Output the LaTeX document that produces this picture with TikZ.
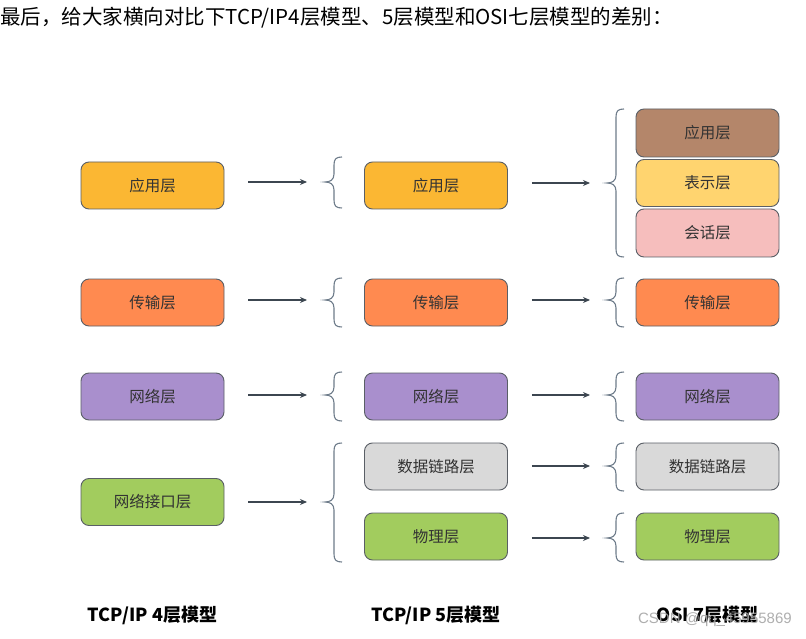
\documentclass[tikz,border=0pt]{standalone}
\usepackage{fontspec}
\setmainfont{Noto Sans CJK SC}
\newfontfamily\wmfont{Liberation Sans}
\usetikzlibrary{arrows.meta}
\definecolor{cApp}{HTML}{FBB733}
\definecolor{cTrans}{HTML}{FF8A50}
\definecolor{cNet}{HTML}{A98FCD}
\definecolor{cLink}{HTML}{A2CC5E}
\definecolor{cGrey}{HTML}{D9D9D9}
\definecolor{cPres}{HTML}{FFD46F}
\definecolor{cSess}{HTML}{F6BEBD}
\definecolor{cOsiApp}{HTML}{B4866A}
\definecolor{cBorder}{HTML}{5A5F66}
\definecolor{cArrow}{HTML}{3C4650}
\definecolor{cBrace}{HTML}{6E7C8A}
\definecolor{cText}{HTML}{333333}
\tikzset{
  layer/.style={draw=cBorder, line width=0.9pt, rounded corners=8pt, minimum width=143pt, minimum height=47pt, inner sep=0pt, font=\fontsize{15.5}{15.5}\selectfont, text=cText},
  arr/.style={draw=cArrow, line width=1.1pt, -{Stealth[length=7pt,width=6pt]}},
  bracestyle/.style={draw=cBrace, line width=1.1pt},
  caption/.style={font=\fontsize{18}{18}\selectfont\bfseries, text=black, inner sep=0pt}
}
% brace: tip x, tip y, top y, bottom y
\newcommand\drawmybrace[4]{%
  \draw[bracestyle] (#1+17,#3) .. controls (#1+11,#3) and (#1+9,#3+2) .. (#1+9,#3+8)
    -- (#1+9,#2-8) .. controls (#1+9,#2-2) and (#1+5,#2) .. (#1,#2)
    .. controls (#1+5,#2) and (#1+9,#2+2) .. (#1+9,#2+8)
    -- (#1+9,#4-8) .. controls (#1+9,#4-2) and (#1+11,#4) .. (#1+17,#4);
  \coordinate (#1-#2) at (#1,#2);
}
\begin{document}
\begin{tikzpicture}[x=1pt,y=-1pt]
\useasboundingbox[fill=white] (0,0) rectangle (806,639);
% header
\node[anchor=west, inner sep=0pt, font=\fontsize{20.5}{20.5}\selectfont, text=black] (title) at (0,18) {最后，给大家横向对比下TCP/IP4层模型、5层模型和OSI七层模型的差别：};
% column 1
\node[layer, fill=cApp]   (a1) at (152.5,185.5) {应用层};
\node[layer, fill=cTrans] (a2) at (152.5,302.5) {传输层};
\node[layer, fill=cNet]   (a3) at (152.5,396.5) {网络层};
\node[layer, fill=cLink]  (a4) at (152.5,502)   {网络接口层};
% column 2
\node[layer, fill=cApp]   (b1) at (436,185.5) {应用层};
\node[layer, fill=cTrans] (b2) at (436,302.5) {传输层};
\node[layer, fill=cNet]   (b3) at (436,396.5) {网络层};
\node[layer, fill=cGrey]  (b4) at (436,466.5) {数据链路层};
\node[layer, fill=cLink]  (b5) at (436,536.5) {物理层};
% column 3
\node[layer, fill=cOsiApp, minimum height=48pt] (c1) at (707.5,133) {应用层};
\node[layer, fill=cPres]  (c2) at (707.5,183) {表示层};
\node[layer, fill=cSess, minimum height=48pt]  (c3) at (707.5,233) {会话层};
\node[layer, fill=cTrans] (c4) at (707.5,302.5) {传输层};
\node[layer, fill=cNet]   (c5) at (707.5,396.5) {网络层};
\node[layer, fill=cGrey]  (c6) at (707.5,466.5) {数据链路层};
\node[layer, fill=cLink]  (c7) at (707.5,536.5) {物理层};
% braces between col1 and col2
\drawmybrace{325}{182}{157}{208}
\drawmybrace{325}{300}{278}{327}
\drawmybrace{325}{395}{372}{421}
\drawmybrace{325}{502}{443}{562}
% braces between col2 and col3
\drawmybrace{607}{183}{109}{257}
\drawmybrace{607}{300}{278}{327}
\drawmybrace{607}{395}{372}{421}
\drawmybrace{607}{466}{443}{491}
\drawmybrace{607}{538}{513}{562}
% arrows col1 -> col2
\coordinate (p1) at (307,182);
\coordinate (p2) at (307,300);
\coordinate (p3) at (307,395);
\coordinate (p4) at (307,502);
\draw[arr] ([xshift=24pt]a1.east |- p1) -- (p1);
\draw[arr] ([xshift=24pt]a2.east |- p2) -- (p2);
\draw[arr] ([xshift=24pt]a3.east |- p3) -- (p3);
\draw[arr] ([xshift=24pt]a4.east |- p4) -- (p4);
% arrows col2 -> col3
\coordinate (q1) at (590,183);
\coordinate (q2) at (590,300);
\coordinate (q3) at (590,395);
\coordinate (q4) at (590,466);
\coordinate (q5) at (590,538);
\draw[arr] ([xshift=24pt]b1.east |- q1) -- (q1);
\draw[arr] ([xshift=24pt]b2.east |- q2) -- (q2);
\draw[arr] ([xshift=24pt]b3.east |- q3) -- (q3);
\draw[arr] ([xshift=24pt]b4.east |- q4) -- (q4);
\draw[arr] ([xshift=24pt]b5.east |- q5) -- (q5);
% captions
\node[caption] (t1) at (152.5,615) {TCP/IP 4层模型};
\node[caption] (t2) at (436,615) {TCP/IP 5层模型};
\node[caption] (t3) at (707.5,615) {OSI 7层模型};
% watermark
\node[anchor=east, inner sep=0pt, font=\wmfont\fontsize{15}{15}\selectfont, text=gray!70, opacity=0.9] (wm) at (792,620) {CSDN @qq\_45955869};
\end{tikzpicture}
\end{document}
